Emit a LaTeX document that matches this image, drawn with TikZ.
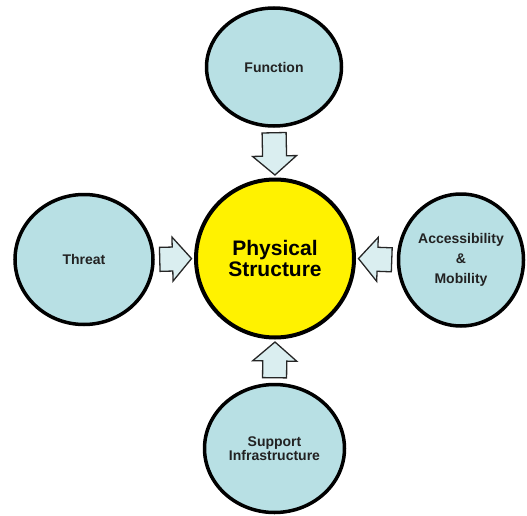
\documentclass[tikz,border=0pt]{standalone}
\usepackage{fontspec}
\setmainfont{Liberation Sans}
\usetikzlibrary{shapes.geometric, calc}
\definecolor{cyanfill}{RGB}{184,224,228}
\definecolor{arrowfill}{RGB}{218,238,240}
\definecolor{textgray}{RGB}{34,34,34}

\tikzset{
  outer/.style={ellipse, draw=black, line width=3.5pt, fill=cyanfill, text=textgray, align=center, inner sep=0pt, font=\bfseries\fontsize{14}{14}\selectfont},
  core/.style={circle, draw=black, line width=4pt, fill=yellow, align=center, inner sep=0pt, font=\bfseries\fontsize{21}{21}\selectfont},
  blockarr/.style={draw=black!85, line width=1.3pt, fill=arrowfill, line join=miter}
}

\newcommand{\blockarrow}[2]{
    \coordinate (s) at ($(#1)!5pt!(#2)$);
    \coordinate (e) at ($(#2)!2.5pt!(#1)$);
    \coordinate (h) at ($(e)!19pt!(s)$);
    \draw[blockarr] ($(s)!12pt!90:(e)$) -- ($(h)!12pt!90:(e)$) -- ($(h)!22pt!90:(e)$) -- (e)
        -- ($(h)!22pt!-90:(e)$) -- ($(h)!12pt!-90:(e)$) -- ($(s)!12pt!-90:(e)$) -- cycle;
}

\begin{document}
\begin{tikzpicture}[x=1pt, y=-1pt]
    \useasboundingbox (0,0) rectangle (527,516);
    \node[outer, minimum width=135pt, minimum height=118pt] (func) at (274,67) {Function};
    \node[outer, minimum width=138pt, minimum height=130pt] (threat) at (84,259.5) {Threat};
    \node[outer, minimum width=125pt, minimum height=132pt, font=\bfseries\fontsize{14}{20}\selectfont] (access) at (461,260) {Accessibility\\\&\\Mobility};
    \node[outer, minimum width=140pt, minimum height=128pt] (support) at (274.5,448.5) {Support\\Infrastructure};
    \node[core, minimum size=158pt] (phys) at (275,258.5) {Physical\\Structure};
    \blockarrow{func.south}{phys.north}
    \blockarrow{threat.east}{phys.west}
    \blockarrow{access.west}{phys.east}
    \blockarrow{support.north}{phys.south}
\end{tikzpicture}
\end{document}
